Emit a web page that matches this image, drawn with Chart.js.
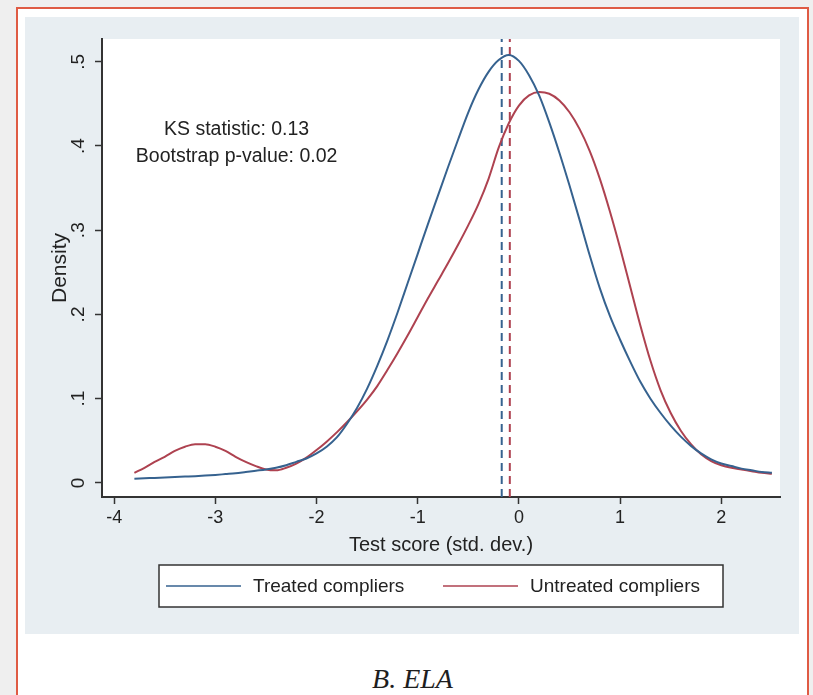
<!DOCTYPE html>
<html>
<head>
<meta charset="utf-8">
<title>Test score densities, ELA</title>
<script src="https://cdn.jsdelivr.net/npm/chart.js@4"></script>
<style>
  html, body { margin: 0; padding: 0; }
  body { width: 813px; height: 695px; background: #efefef; position: relative; overflow: hidden; }
  #frame { position: absolute; left: 16px; top: 7px; width: 793px; height: 720px; background: #fff; border: 2px solid #df5b44; box-sizing: border-box; }
  #panel { position: absolute; left: 25px; top: 17px; width: 774px; height: 617px; background: #e8eef2; }
  #caption { position: absolute; left: 16px; width: 793px; top: 663px; line-height: 32px; text-align: center;
             font: italic 28px "Liberation Serif", "Times New Roman", serif; color: #1e1e1e; }
</style>
</head>
<body>
<div id="frame"></div>
<div id="panel"><canvas id="density" width="774" height="617"></canvas></div>
<div id="caption">B. ELA</div>

<script>
// evaluation grid (std. dev.)
const xs = [
  -3.8, -3.7, -3.6, -3.5, -3.4, -3.3, -3.2, -3.1, -3.0, -2.9,
  -2.8, -2.7, -2.6, -2.5, -2.4, -2.3, -2.2, -2.1, -2.0, -1.9,
  -1.8, -1.7, -1.6, -1.5, -1.4, -1.3, -1.2, -1.1, -1.0, -0.9,
  -0.8, -0.7, -0.6, -0.5, -0.4, -0.3, -0.2, -0.1, 0.0, 0.1,
  0.2, 0.3, 0.4, 0.5, 0.6, 0.7, 0.8, 0.9, 1.0, 1.1,
  1.2, 1.3, 1.4, 1.5, 1.6, 1.7, 1.8, 1.9, 2.0, 2.1,
  2.2, 2.3, 2.4, 2.5
];

// kernel density, treated compliers
const treated = [
  0.005, 0.0055, 0.006, 0.0065, 0.007, 0.0075, 0.008, 0.0087, 0.0095, 0.0105,
  0.0115, 0.013, 0.0145, 0.016, 0.018, 0.021, 0.025, 0.029, 0.035, 0.043,
  0.054, 0.070, 0.089, 0.112, 0.139, 0.169, 0.202, 0.237, 0.272, 0.307,
  0.341, 0.375, 0.408, 0.440, 0.467, 0.488, 0.502, 0.508, 0.501, 0.484,
  0.460, 0.428, 0.392, 0.353, 0.312, 0.270, 0.231, 0.198, 0.170, 0.144,
  0.120, 0.100, 0.083, 0.068, 0.055, 0.044, 0.035, 0.028, 0.023, 0.020,
  0.017, 0.015, 0.013, 0.012
];

// kernel density, untreated compliers
const untreated = [
  0.012, 0.018, 0.025, 0.031, 0.038, 0.043, 0.046, 0.046, 0.043, 0.038,
  0.031, 0.025, 0.020, 0.016, 0.015, 0.018, 0.023, 0.030, 0.039, 0.049,
  0.060, 0.072, 0.085, 0.099, 0.115, 0.134, 0.154, 0.175, 0.197, 0.219,
  0.240, 0.261, 0.283, 0.306, 0.331, 0.361, 0.398, 0.427, 0.448, 0.460,
  0.464, 0.462, 0.454, 0.440, 0.420, 0.394, 0.361, 0.322, 0.279, 0.233,
  0.187, 0.145, 0.110, 0.083, 0.062, 0.046, 0.034, 0.026, 0.021, 0.018,
  0.016, 0.014, 0.012, 0.011
];

const seriesNames = ["Treated compliers", "Untreated compliers"];
const seriesColors = ["#36628f", "#ae4250"];
const means = [-0.17, -0.09];

const xTicks = [-4, -3, -2, -1, 0, 1, 2];
const yTicks = [0, 0.1, 0.2, 0.3, 0.4, 0.5];
const yTickLabels = ["0", ".1", ".2", ".3", ".4", ".5"];
const note = ["KS statistic: 0.13", "Bootstrap p-value: 0.02"];

const xMin = -4.12, xMax = 2.58;
const yMin = -0.0167, yMax = 0.527;

const FONT = '"Liberation Sans", Arial, Helvetica, sans-serif';
const INK = "#222";
const AXIS = "#333";
Chart.defaults.font.family = FONT;
Chart.defaults.color = INK;

// white plot region on top of the tinted graph region
const plotBackground = {
  id: "plotBackground",
  beforeDraw(chart) {
    const { ctx, chartArea: a } = chart;
    ctx.save();
    ctx.fillStyle = "#fff";
    ctx.fillRect(a.left, a.top, a.right - a.left, a.bottom - a.top);
    ctx.restore();
  }
};

// KS test text, placed in data units
const notePlugin = {
  id: "note",
  afterDatasetsDraw(chart) {
    const { ctx, scales: { x, y } } = chart;
    const cx = x.getPixelForValue(-2.79);
    ctx.save();
    ctx.font = "19.5px " + FONT;
    ctx.fillStyle = INK;
    ctx.textAlign = "center";
    ctx.textBaseline = "middle";
    ctx.fillText(note[0], cx, y.getPixelForValue(0.419));
    ctx.fillText(note[1], cx, y.getPixelForValue(0.387));
    ctx.restore();
  }
};

// boxed two-column legend under the axis title
const boxLegend = {
  id: "boxLegend",
  afterDraw(chart) {
    const { ctx, chartArea: a } = chart;
    const w = 564, h = 42;
    const left = Math.round((a.left + a.right) / 2 - w / 2);
    const top = 548;
    ctx.save();
    ctx.fillStyle = "#fff";
    ctx.fillRect(left, top, w, h);
    ctx.strokeStyle = AXIS;
    ctx.lineWidth = 1.5;
    ctx.strokeRect(left, top, w, h);
    ctx.font = "19px " + FONT;
    ctx.textBaseline = "middle";
    ctx.textAlign = "left";
    const midY = top + h / 2;
    chart.data.datasets.slice(0, 2).forEach((ds, i) => {
      const x0 = left + 7 + i * 277;
      ctx.strokeStyle = ds.borderColor;
      ctx.lineWidth = 1.5;
      ctx.beginPath();
      ctx.moveTo(x0, midY);
      ctx.lineTo(x0 + 75, midY);
      ctx.stroke();
      ctx.fillStyle = INK;
      ctx.fillText(ds.label, x0 + 87, midY + 1);
    });
    ctx.restore();
  }
};

const curve = (ys, i) => ({
  label: seriesNames[i],
  data: xs.map((x, k) => ({ x, y: ys[k] })),
  borderColor: seriesColors[i],
  borderWidth: 2,
  pointRadius: 0,
  cubicInterpolationMode: "monotone"
});

const meanLine = (m, i) => ({
  label: seriesNames[i] + " mean",
  data: [{ x: m, y: yMin }, { x: m, y: yMax }],
  borderColor: seriesColors[i],
  borderWidth: 2,
  borderDash: [8, 5],
  pointRadius: 0
});

new Chart(document.getElementById("density"), {
  type: "line",
  data: {
    datasets: [curve(treated, 0), curve(untreated, 1), meanLine(means[0], 0), meanLine(means[1], 1)]
  },
  options: {
    responsive: false,
    animation: false,
    layout: { padding: { top: 22, right: 19, bottom: 74, left: 0 } },
    plugins: { legend: { display: false }, tooltip: { enabled: false } },
    scales: {
      x: {
        type: "linear",
        min: xMin,
        max: xMax,
        afterBuildTicks: s => { s.ticks = xTicks.map(v => ({ value: v })); },
        afterFit: s => { s.height = 63; },
        ticks: { font: { size: 18 }, color: INK, padding: 3, callback: v => String(v) },
        grid: { drawOnChartArea: false, tickLength: 7, tickColor: AXIS, tickWidth: 1.5 },
        border: { color: AXIS, width: 2 },
        title: { display: true, text: "Test score (std. dev.)", font: { size: 20 }, color: INK, padding: { top: 0, bottom: 3 } }
      },
      y: {
        min: yMin,
        max: yMax,
        afterBuildTicks: s => { s.ticks = yTicks.map(v => ({ value: v })); },
        afterFit: s => { s.width = 77; },
        ticks: {
          minRotation: 90, maxRotation: 90, crossAlign: "center", padding: 8,
          font: { size: 19 }, color: INK,
          callback: (v, i) => yTickLabels[i]
        },
        grid: { drawOnChartArea: false, tickLength: 7, tickColor: AXIS, tickWidth: 1.5 },
        border: { color: AXIS, width: 2 },
        title: { display: true, text: "Density", font: { size: 21 }, color: INK, padding: { top: 23, bottom: 0 } }
      }
    }
  },
  plugins: [plotBackground, notePlugin, boxLegend]
});
</script>
</body>
</html>
